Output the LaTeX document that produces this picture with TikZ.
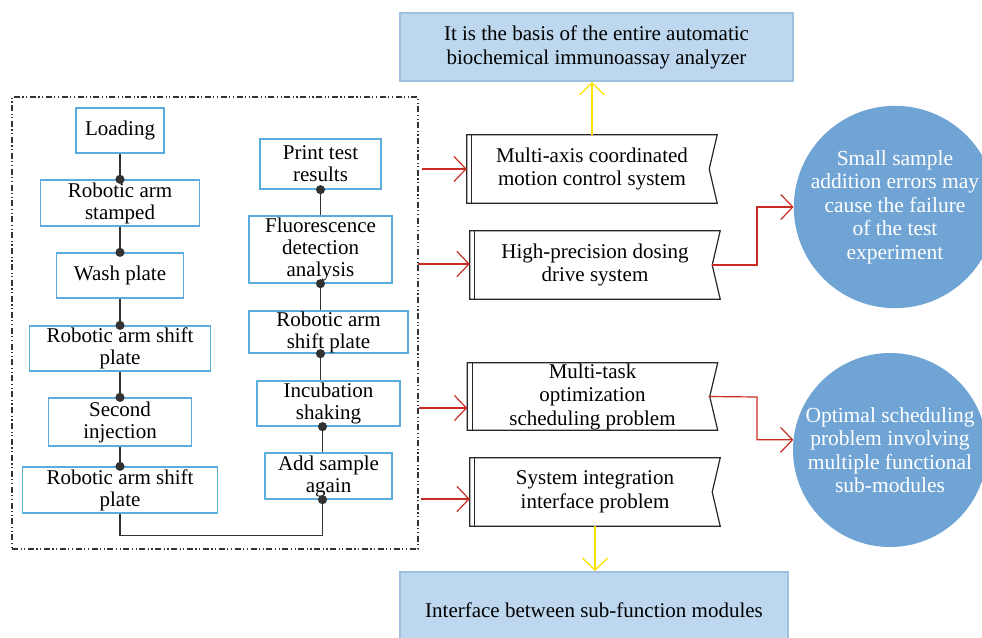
\documentclass[tikz,border=0pt]{standalone}
\usepackage{fontspec}
\setmainfont{Liberation Serif}
\usetikzlibrary{arrows.meta,calc}
\definecolor{boxblue}{RGB}{91,172,222}
\definecolor{conncol}{RGB}{50,50,50}
\definecolor{redc}{RGB}{200,45,35}
\definecolor{yelc}{RGB}{250,225,0}
\definecolor{lightb}{RGB}{189,215,238}
\definecolor{lightbd}{RGB}{160,192,225}
\definecolor{circb}{RGB}{112,164,212}
\tikzset{
  tf/.style={font=\fontsize{21}{22}\selectfont},
  stepbox/.style={tf, draw=boxblue, line width=1.3pt, fill=white, align=center, inner sep=0pt},
  banner/.style={align=center, inner sep=0pt, minimum width=250pt, minimum height=68pt, font=\fontsize{21}{23.5}\selectfont},
  bannerline/.style={draw=black!85, line width=1.2pt, line join=miter},
  bubble/.style={circle, fill=circb, text=white, align=center, inner sep=0pt, minimum size=194pt, font=\fontsize{21.5}{23.5}\selectfont},
  infobox/.style={fill=lightb, draw=lightbd, line width=2pt, align=center, inner sep=0pt, font=\fontsize{21}{24}\selectfont},
  conn/.style={draw=conncol, line width=1.5pt, -{Circle[length=9pt]}, shorten >=-4.5pt},
  redarr/.style={draw=redc, line width=1.2pt, -{Straight Barb[length=12pt,width=25pt,line width=1.2pt]}},
  yelarr/.style={draw=yelc, line width=1.3pt, -{Straight Barb[length=12pt,width=25pt,line width=1.3pt]}},
  frame/.style={draw=black!80, line width=1.1pt, dash pattern=on 6pt off 2.5pt on 1.2pt off 2.5pt on 1.2pt off 2.5pt, inner sep=0pt}
}
\begin{document}
\begin{tikzpicture}[x=1pt,y=-1pt]
\useasboundingbox (0,0) rectangle (982,637);
\clip (0,0) rectangle (982,637);
\fill[white] (0,0) rectangle (982,637);

% dashed frame
\node[frame, minimum width=406pt, minimum height=452pt] (fr) at (215,323) {};

% left column
\node[stepbox, minimum width=88pt, minimum height=45pt] (load) at (120,130.5) {Loading};
\node[stepbox, minimum width=159pt, minimum height=46pt] (ras) at (120,203) {Robotic arm\\stamped};
\node[stepbox, minimum width=127pt, minimum height=45pt] (wash) at (120,275.5) {Wash plate};
\node[stepbox, minimum width=181pt, minimum height=45pt] (rsa) at (120,348.5) {Robotic arm shift\\plate};
\node[stepbox, minimum width=143pt, minimum height=48pt] (sec) at (120,422) {Second\\injection};
\node[stepbox, minimum width=195pt, minimum height=46pt] (rsb) at (120,490) {Robotic arm shift\\plate};

% right column
\node[stepbox, minimum width=121pt, minimum height=50pt] (pr) at (320.5,164) {Print test\\results};
\node[stepbox, minimum width=143pt, minimum height=67pt] (fl) at (320.5,249.5) {Fluorescence\\detection\\analysis};
\node[stepbox, minimum width=159pt, minimum height=42pt] (rsc) at (328.5,332) {Robotic arm\\shift plate};
\node[stepbox, minimum width=143pt, minimum height=45pt] (inc) at (328.5,403.5) {Incubation\\shaking};
\node[stepbox, minimum width=127pt, minimum height=46pt] (add) at (328.5,476) {Add sample\\again};

% column connectors
\draw[conn] (load.south) -- (ras.north);
\draw[conn] (ras.south) -- (wash.north);
\draw[conn] (wash.south) -- (rsa.north);
\draw[conn] (rsa.south) -- (sec.north);
\draw[conn] (sec.south) -- (rsb.north);
\draw[conn] (rsb.south) -- ++(0,22) -| ([xshift=-6pt]add.south);
\draw[conn] ([xshift=-6pt]add.north) -- ([xshift=-6pt]inc.south);
\draw[conn] (inc.north -| fl.south) -- (rsc.south -| fl.south);
\draw[conn] (rsc.north -| fl.south) -- (fl.south);
\draw[conn] (fl.north) -- (pr.south);

% banners
\node[banner] (ma) at (592,169) {Multi-axis coordinated\\motion control system};
\node[banner] (hp) at (595,265) {High-precision dosing\\drive system};
\node[banner, minimum height=67pt] (mt) at (592.5,396.5) {Multi-task\\optimization\\scheduling problem};
\node[banner] (si) at (595,492) {System integration\\interface problem};
\foreach \n in {ma,hp,mt,si}{
  \draw[bannerline] (\n.north west) -- (\n.north east) -- ([xshift=-8pt]\n.east) -- (\n.south east) -- (\n.south west) -- cycle;
  \draw[bannerline] ([xshift=5pt]\n.north west) -- ([xshift=5pt]\n.south west);
}

% info boxes
\node[infobox, minimum width=393pt, minimum height=68pt] (top) at (596.5,47) {It is the basis of the entire automatic\\biochemical immunoassay analyzer};
\node[infobox, minimum width=388pt, minimum height=76pt] (bot) at (594,610) {Interface between sub-function modules};

% bubbles
\node[bubble] (c1) at (895,207) {Small sample\\addition errors may\\cause the failure\\of the test\\experiment};
\node[bubble] (c2) at (890,450) {Optimal scheduling\\problem involving\\multiple functional\\sub-modules};

% red arrows from frame
\coordinate (s1) at (422,169);
\coordinate (s2) at (418,264);
\coordinate (s3) at (419,408);
\coordinate (s4) at (421,499);
\draw[redarr] (s1) -- (s1 -| ma.west);
\draw[redarr] (s2) -- (s2 -| hp.west);
\draw[redarr] (s3) -- (s3 -| mt.west);
\draw[redarr] (s4) -- (s4 -| si.west);

% red elbows to bubbles
\draw[redarr] ([xshift=-8pt]hp.east) -- (757,265) |- (c1.west);
\draw[redarr] ([xshift=-9pt]mt.east) -- (757,397) |- (c2.174);

% yellow arrows
\draw[yelarr] (ma.north) -- (ma.north |- top.south);
\draw[yelarr] (si.south) -- (si.south |- bot.north);
\end{tikzpicture}
\end{document}
